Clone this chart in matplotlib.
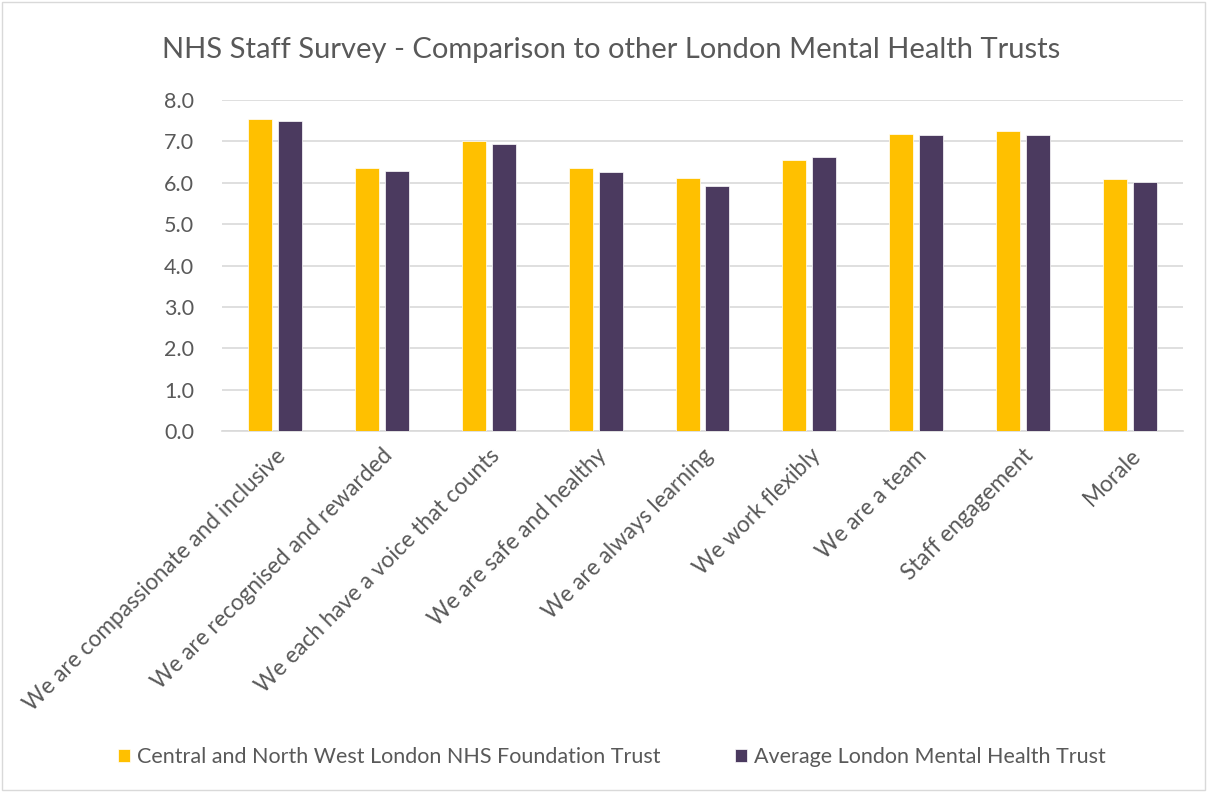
import numpy as np
import matplotlib
matplotlib.use("Agg")
import matplotlib.pyplot as plt
from matplotlib.patches import Rectangle

plt.rcParams['font.family'] = ['Lato', 'DejaVu Sans']

categories = [
    "We are compassionate and inclusive",
    "We are recognised and rewarded",
    "We each have a voice that counts",
    "We are safe and healthy",
    "We are always learning",
    "We work flexibly",
    "We are a team",
    "Staff engagement",
    "Morale",
]
cnwl = [7.54, 6.35, 7.02, 6.36, 6.11, 6.54, 7.17, 7.24, 6.10]
london_avg = [7.49, 6.29, 6.94, 6.27, 5.93, 6.62, 7.16, 7.15, 6.02]
series_names = ["Central and North West London NHS Foundation Trust",
                "Average London Mental Health Trust"]

yellow = "#FFC000"
purple = "#4B3A5F"
text_grey = "#595959"

fig = plt.figure(figsize=(12.07, 7.92), dpi=100)
# light frame round the whole chart area
fig.patches.append(Rectangle((0.002, 0.002), 0.996, 0.996, transform=fig.transFigure,
                             fill=False, edgecolor="#d9d9d9", linewidth=1))

ax = fig.add_axes([222 / 1207, 1 - 431 / 792, (1183 - 222) / 1207, (431 - 100) / 792])

x = np.arange(len(categories))
w = 0.225
ax.bar(x - 0.14, cnwl, w, color=yellow, edgecolor="white", linewidth=0.5, zorder=3,
       label=series_names[0])
ax.bar(x + 0.14, london_avg, w, color=purple, edgecolor="white", linewidth=0.5, zorder=3,
       label=series_names[1])

ax.set_xlim(-0.5, len(categories) - 0.5)
ax.set_ylim(0, 8)
ax.set_yticks(np.arange(0, 8.01, 1.0))
ax.set_yticklabels([f"{v:.1f}" for v in np.arange(0, 8.01, 1.0)])
ax.yaxis.grid(True, color="#d9d9d9", linewidth=1.2, zorder=0)
ax.set_axisbelow(True)
for s in ["top", "right", "left"]:
    ax.spines[s].set_visible(False)
ax.spines["bottom"].set_color("#d9d9d9")
ax.spines["bottom"].set_linewidth(1.2)

ax.set_xticks(x)
ax.set_xticklabels(categories, rotation=45, ha="right", rotation_mode="anchor")
ax.tick_params(axis="both", length=0, colors=text_grey)
ax.tick_params(axis="x", pad=10, labelsize=16.3)
ax.tick_params(axis="y", pad=20, labelsize=15.5)

fig.text(0.506, 1 - 50 / 792, "NHS Staff Survey - Comparison to other London Mental Health Trusts",
         ha="center", va="center", fontsize=21, color=text_grey)

fig.legend(loc="center", bbox_to_anchor=(0.507, 1 - 757 / 792), ncol=2, frameon=False,
           fontsize=15.5, labelcolor=text_grey, handlelength=0.55, handleheight=0.6,
           handletextpad=0.3, columnspacing=3.5)

fig.savefig("out.png", dpi=100)
